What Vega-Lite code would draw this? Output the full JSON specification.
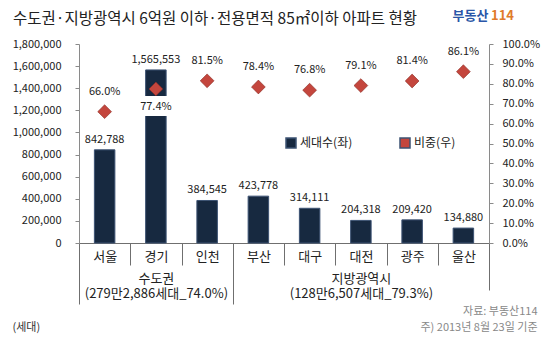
{
  "$schema": "https://vega.github.io/schema/vega-lite/v6.json",
  "width": 410,
  "height": 199,
  "autosize": "none",
  "padding": {"left": 79, "top": 44, "right": 61, "bottom": 105},
  "background": "white",
  "config": {
    "font": "Noto Sans CJK KR",
    "view": {"stroke": null},
    "axis": {"labelFont": "Noto Sans CJK KR", "titleFont": "Noto Sans CJK KR", "grid": false},
    "legend": {"labelFont": "Noto Sans CJK KR"}
  },
  "title": {
    "text": "수도권·지방광역시 6억원 이하·전용면적 85㎡이하 아파트 현황",
    "orient": "none",
    "anchor": "start",
    "baseline": "middle",
    "dx": -66,
    "dy": -25,
    "fontSize": 15.5,
    "fontWeight": "normal",
    "color": "#222222"
  },
  "datasets": {
    "regions": [
      {"region": "서울", "households": 842788, "ratio": 0.660},
      {"region": "경기", "households": 1565553, "ratio": 0.774},
      {"region": "인천", "households": 384545, "ratio": 0.815},
      {"region": "부산", "households": 423778, "ratio": 0.784},
      {"region": "대구", "households": 314111, "ratio": 0.768},
      {"region": "대전", "households": 204318, "ratio": 0.791},
      {"region": "광주", "households": 209420, "ratio": 0.814},
      {"region": "울산", "households": 134880, "ratio": 0.861}
    ],
    "groups": [
      {"group": "수도권", "start": 0, "end": 3, "center": 1.5},
      {"group": "지방광역시", "start": 3, "end": 8, "center": 5.5}
    ]
  },
  "layer": [
    {
      "data": {"name": "regions"},
      "encoding": {
        "x": {
          "field": "region", "type": "nominal", "sort": null,
          "scale": {"paddingInner": 0, "paddingOuter": 0},
          "axis": {
            "orient": "bottom", "title": null, "labelAngle": 0,
            "domainColor": "#6f6f6f", "tickColor": "#6f6f6f",
            "tickBand": "extent", "tickSize": 22, "labelPadding": -15,
            "labelFontSize": 13, "labelColor": "#222222"
          }
        }
      },
      "layer": [
        {
          "encoding": {
            "y": {
              "field": "households", "type": "quantitative",
              "scale": {"domain": [0, 1800000], "nice": false},
              "axis": {
                "orient": "left",
                "values": [0, 200000, 400000, 600000, 800000, 1000000, 1200000, 1400000, 1600000, 1800000],
                "format": ",d", "labelOverlap": false, "tickSize": 4, "labelPadding": 14,
                "domainColor": "#8a8a8a", "tickColor": "#8a8a8a",
                "labelFontSize": 11, "labelColor": "#222222",
                "title": "(세대)", "titleAngle": 0, "titleX": -67, "titleY": 283,
                "titleAlign": "left", "titleBaseline": "middle",
                "titleFontSize": 11, "titleFontWeight": "normal", "titleColor": "#333333"
              }
            }
          },
          "layer": [
            {
              "mark": {"type": "bar", "width": {"band": 0.4}, "stroke": "#3d5373", "strokeWidth": 1},
              "encoding": {
                "color": {
                  "datum": "세대수(좌)", "type": "nominal",
                  "scale": {"domain": ["세대수(좌)", "비중(우)"], "range": ["#172940", "#c4463d"]},
                  "legend": {
                    "orient": "none", "legendX": 206, "legendY": 93,
                    "direction": "horizontal", "title": null,
                    "labelFontSize": 12, "labelColor": "#222222",
                    "columnPadding": 44, "labelOffset": 3,
                    "encode": {
                      "symbols": {
                        "update": {
                          "shape": {"signal": "datum.value === '비중(우)' ? 'diamond' : 'square'"},
                          "size": {"signal": "datum.value === '비중(우)' ? 110 : 40"}
                        }
                      }
                    }
                  }
                }
              }
            },
            {
              "mark": {"type": "text", "baseline": "bottom", "dy": -5, "fontSize": 11, "color": "#222222"},
              "encoding": {
                "text": {"field": "households", "type": "quantitative", "format": ",d"}
              }
            }
          ]
        },
        {
          "encoding": {
            "y": {
              "field": "ratio", "type": "quantitative",
              "scale": {"domain": [0, 1], "nice": false},
              "axis": {
                "orient": "right",
                "values": [0, 0.1, 0.2, 0.3, 0.4, 0.5, 0.6, 0.7, 0.8, 0.9, 1],
                "format": ".1%", "labelOverlap": false, "tickSize": 4, "labelPadding": 9,
                "domainColor": "#8a8a8a", "tickColor": "#8a8a8a",
                "labelFontSize": 11, "labelColor": "#222222",
                "title": ["자료: 부동산114", "주) 2013년 8월 23일 기준"],
                "titleAngle": 0, "titleX": 48, "titleY": 261,
                "titleAlign": "right", "titleBaseline": "top", "titleLineHeight": 16,
                "titleFontSize": 11, "titleFontWeight": "normal", "titleColor": "#888888"
              }
            }
          },
          "layer": [
            {
              "mark": {"type": "point", "shape": "diamond", "size": 190, "filled": true, "opacity": 1, "stroke": "#8a2a22", "strokeWidth": 0.6},
              "encoding": {
                "color": {"datum": "비중(우)", "type": "nominal"}
              }
            },
            {
              "transform": [{"filter": "datum.region !== '경기'"}],
              "mark": {"type": "text", "baseline": "middle", "dy": -20, "fontSize": 11, "color": "#222222"},
              "encoding": {
                "text": {"field": "ratio", "type": "quantitative", "format": ".1%"}
              }
            },
            {
              "transform": [{"filter": "datum.region === '경기'"}],
              "mark": {"type": "text", "baseline": "middle", "dy": 18, "fontSize": 11, "color": "white", "stroke": "white", "strokeWidth": 12},
              "encoding": {
                "text": {"field": "ratio", "type": "quantitative", "format": ".1%"}
              }
            },
            {
              "transform": [{"filter": "datum.region === '경기'"}],
              "mark": {"type": "text", "baseline": "middle", "dy": 18, "fontSize": 11, "color": "#222222"},
              "encoding": {
                "text": {"field": "ratio", "type": "quantitative", "format": ".1%"}
              }
            }
          ]
        }
      ],
      "resolve": {"scale": {"y": "independent"}}
    },
    {
      "data": {"name": "groups"},
      "mark": {"type": "tick", "opacity": 0},
      "encoding": {
        "x": {
          "field": "start", "type": "quantitative",
          "scale": {"domain": [0, 8], "nice": false, "zero": false},
          "axis": {
            "orient": "bottom", "values": [0, 3, 8], "labels": false, "domain": false,
            "tickColor": "#6f6f6f",
            "tickSize": {"condition": {"test": "datum.value === 8", "value": 47}, "value": 61},
            "title": "114", "titleX": 423, "titleY": -228, "titleAlign": "center", "titleBaseline": "middle",
            "titleFontSize": 13, "titleFontWeight": "bold", "titleColor": "#e07b2a"
          }
        }
      }
    },
    {
      "data": {"name": "groups"},
      "mark": {"type": "tick", "opacity": 0},
      "encoding": {
        "x": {
          "field": "center", "type": "quantitative",
          "scale": {"domain": [0, 8], "nice": false, "zero": false},
          "axis": {
            "orient": "bottom", "values": [1.5, 5.5], "ticks": false, "domain": false,
            "labelExpr": "datum.value === 1.5 ? ['수도권', '(279만2,886세대_74.0%)'] : ['지방광역시', '(128만6,507세대_79.3%)']",
            "labelPadding": 29, "labelLineHeight": 15, "labelFontSize": 13, "labelColor": "#222222",
            "title": "부동산", "titleX": 391, "titleY": -228, "titleAlign": "center", "titleBaseline": "middle",
            "titleFontSize": 13, "titleFontWeight": "bold", "titleColor": "#2a56a8"
          }
        }
      }
    }
  ],
  "resolve": {"scale": {"x": "independent", "y": "independent"}}
}
